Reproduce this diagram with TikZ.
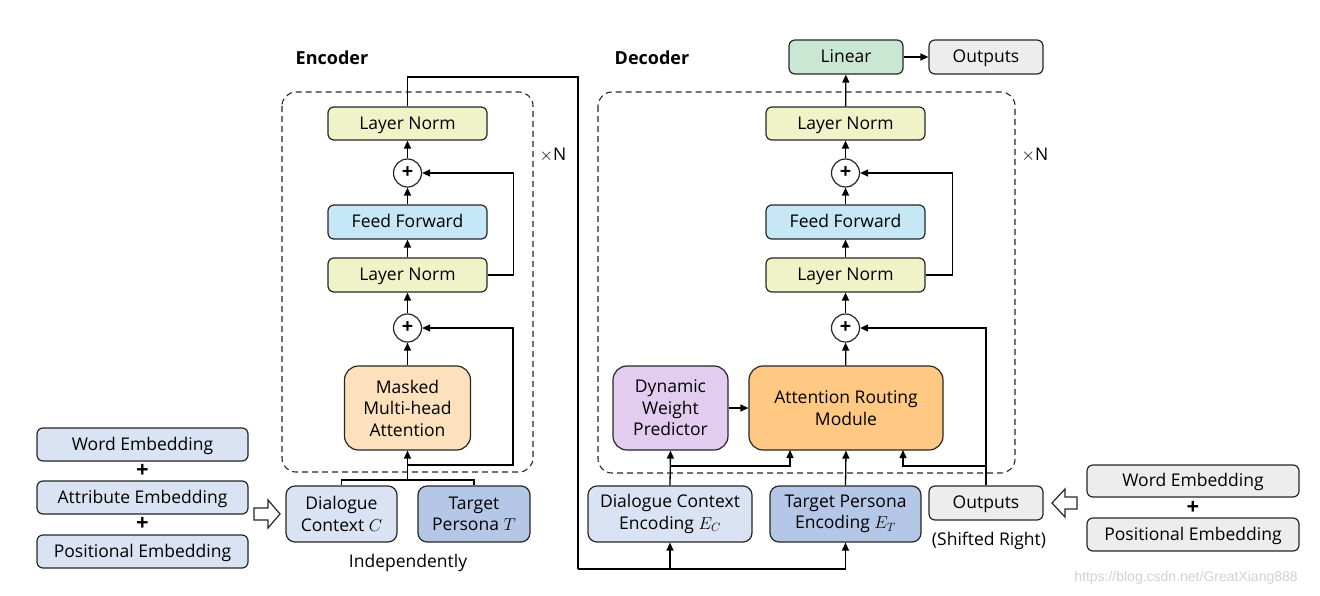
\documentclass[tikz,border=0pt]{standalone}
\usepackage{fontspec}
\setmainfont{Open Sans}
\usetikzlibrary{arrows.meta,calc}
\definecolor{lncol}{HTML}{F0F2C8}
\definecolor{ffcol}{HTML}{C6E7F6}
\definecolor{mhacol}{HTML}{FDE0BC}
\definecolor{dccol}{HTML}{DAE3F3}
\definecolor{tpcol}{HTML}{B4C7E7}
\definecolor{armcol}{HTML}{FFC983}
\definecolor{dwpcol}{HTML}{E2CCEF}
\definecolor{lincol}{HTML}{C9E7D3}
\definecolor{outcol}{HTML}{EDEDED}
\definecolor{edgecol}{HTML}{262626}
\tikzset{
  box/.style={draw=edgecol, line width=1.2pt, rounded corners=6pt, align=center, inner sep=0pt},
  sbox/.style={box, text height=14pt, text depth=3pt},
  bigbox/.style={box, rounded corners=14pt},
  plusnode/.style={draw=edgecol, line width=1.2pt, circle, minimum size=28pt, inner sep=0pt, font=\fontsize{20}{20}\selectfont\bfseries},
  conn/.style={line width=1.3pt, draw=black},
  frame/.style={draw=edgecol, line width=1.1pt, rounded corners=14pt, dash pattern=on 6pt off 4pt},
  hollow/.style={draw=edgecol, line width=1.2pt, fill=white, line join=miter},
  lbl/.style={inner sep=0pt},
  plussign/.style={inner sep=0pt, font=\fontsize{22}{22}\selectfont\bfseries},
  title/.style={inner sep=0pt, font=\fontsize{18}{21}\selectfont\bfseries}
}
\begin{document}
\begin{tikzpicture}[x=1pt,y=-1pt, font=\fontsize{17.5}{21.5}\selectfont, >={Triangle[length=8pt,width=7pt]}]
\useasboundingbox (0,0) rectangle (1320,595);

% ---------------- Encoder ----------------
\node[title] (enctitle) at (332,58) {Encoder};
\draw[frame] (282,92) rectangle (533,472);
\node[lbl] (encN) at (553,155) {$\times$N};

\node[sbox, fill=lncol, minimum width=159pt, minimum height=33pt] (eln1) at (407.5,123.5) {Layer Norm};
\node[plusnode, fill=white] (ep1) at (407.5,173) {+};
\node[sbox, fill=ffcol, minimum width=159pt, minimum height=34pt] (eff) at (407.5,222) {Feed Forward};
\node[sbox, fill=lncol, minimum width=159pt, minimum height=34pt] (eln2) at (407.5,275) {Layer Norm};
\node[plusnode, fill=white] (ep2) at (407.5,328) {+};
\node[bigbox, fill=mhacol, minimum width=126pt, minimum height=84pt] (mha) at (407.5,408) {Masked\\Multi-head\\Attention};

\node[bigbox, rounded corners=9pt, fill=dccol, minimum width=111pt, minimum height=56pt] (dc) at (341.5,514) {Dialogue\\Context \(C\)};
\node[bigbox, rounded corners=9pt, fill=tpcol, minimum width=112pt, minimum height=56pt] (tp) at (474,514) {Target\\Persona \(T\)};
\node[lbl] (indep) at (408,563) {Independently};

\draw[conn,->] (ep1) -- (eln1);
\draw[conn,->] (eff) -- (ep1);
\draw[conn,->] (eln2) -- (eff);
\draw[conn,->] (ep2) -- (eln2);
\draw[conn,->] (mha) -- (ep2);
\draw[conn,->] (eln2.east) -- ++(26,0) |- (ep1.east);
\coordinate (ejoin) at (407.5,480);
\draw[conn] (dc.north) |- (ejoin) -| (tp.north);
\draw[conn,->] (ejoin) -- (mha.south);
\draw[conn,->] (ejoin) -- (407.5,465) -- (513,465) |- (ep2.east);

% left embeddings
\node[sbox, fill=dccol, minimum width=211pt, minimum height=33pt] (we1) at (142.5,444.5) {Word Embedding};
\node[plussign] (pl1) at (142.5,470.5) {+};
\node[sbox, fill=dccol, minimum width=211pt, minimum height=33pt] (ae1) at (142.5,497.5) {Attribute Embedding};
\node[plussign] (pl2) at (142.5,524) {+};
\node[sbox, fill=dccol, minimum width=211pt, minimum height=33pt] (pe1) at (142.5,551.5) {Positional Embedding};
\draw[hollow] (254,508) -- (268,508) -- (268,500) -- (280,514) -- (268,528) -- (268,520) -- (254,520) -- cycle;

% encoder output bus
\coordinate (bus) at (578,569);
\draw[conn] (eln1.north) |- (578,77) -- (bus);

% ---------------- Decoder ----------------
\node[title] (dectitle) at (652,58) {Decoder};
\draw[frame] (598,92) rectangle (1015,473);
\node[lbl] (decN) at (1035,155) {$\times$N};

\node[sbox, fill=lincol, minimum width=114pt, minimum height=34pt] (lin) at (846,57) {Linear};
\node[sbox, fill=outcol, minimum width=114pt, minimum height=34pt] (outtop) at (986,57) {Outputs};
\node[sbox, fill=lncol, minimum width=159pt, minimum height=33pt] (dln1) at (845.5,123.5) {Layer Norm};
\node[plusnode, fill=white] (dp1) at (845.5,173) {+};
\node[sbox, fill=ffcol, minimum width=159pt, minimum height=34pt] (dff) at (845.5,222) {Feed Forward};
\node[sbox, fill=lncol, minimum width=159pt, minimum height=34pt] (dln2) at (845.5,275) {Layer Norm};
\node[plusnode, fill=white] (dp2) at (845.5,328) {+};
\node[bigbox, fill=armcol, minimum width=194pt, minimum height=84pt] (arm) at (846,408) {Attention Routing\\Module};
\node[bigbox, fill=dwpcol, minimum width=115pt, minimum height=84pt] (dwp) at (670.5,408) {Dynamic\\Weight\\Predictor};

\node[bigbox, rounded corners=9pt, fill=dccol, minimum width=164pt, minimum height=56pt] (dce) at (670,514) {Dialogue Context\\Encoding \(E_C\)};
\node[bigbox, rounded corners=9pt, fill=tpcol, minimum width=151pt, minimum height=56pt] (tpe) at (845.5,514) {Target Persona\\Encoding \(E_T\)};
\node[sbox, fill=outcol, minimum width=114pt, minimum height=34pt] (outb) at (986,503) {Outputs};
\node[lbl] (shift) at (989,541) {(Shifted Right)};

\draw[conn,->] (lin) -- (outtop);
\draw[conn,->] (dln1) -- (lin);
\draw[conn,->] (dp1) -- (dln1);
\draw[conn,->] (dff) -- (dp1);
\draw[conn,->] (dln2) -- (dff);
\draw[conn,->] (dp2) -- (dln2);
\draw[conn,->] (arm) -- (dp2);
\draw[conn,->] (dln2.east) -- ++(27,0) |- (dp1.east);
\draw[conn,->] (dwp) -- (arm);
\draw[conn,->] (dce.north) -- (dwp.south);
\draw[conn,->] (670,466) -| (790,450);
\draw[conn,->] (tpe.north) -- (arm.south);
\draw[conn,->] (outb.north) |- (dp2.east);
\draw[conn,->] (986,466) -| (903,450);

\draw[conn,->] (bus) -| (tpe.south);
\draw[conn,->] (dce.south |- bus) -- (dce.south);

% right embeddings
\node[sbox, fill=outcol, minimum width=212pt, minimum height=32pt] (we2) at (1193,481) {Word Embedding};
\node[plussign] (pl3) at (1193,507.5) {+};
\node[sbox, fill=outcol, minimum width=212pt, minimum height=33pt] (pe2) at (1193,534.5) {Positional Embedding};
\draw[hollow] (1077,497) -- (1065,497) -- (1065,489) -- (1052,503) -- (1065,517) -- (1065,509) -- (1077,509) -- cycle;

\node[lbl, text=black!18, font=\fontspec{Liberation Sans}\fontsize{14}{14}\selectfont] (wm) at (1186,578) {https://blog.csdn.net/GreatXiang888};
\end{tikzpicture}
\end{document}
